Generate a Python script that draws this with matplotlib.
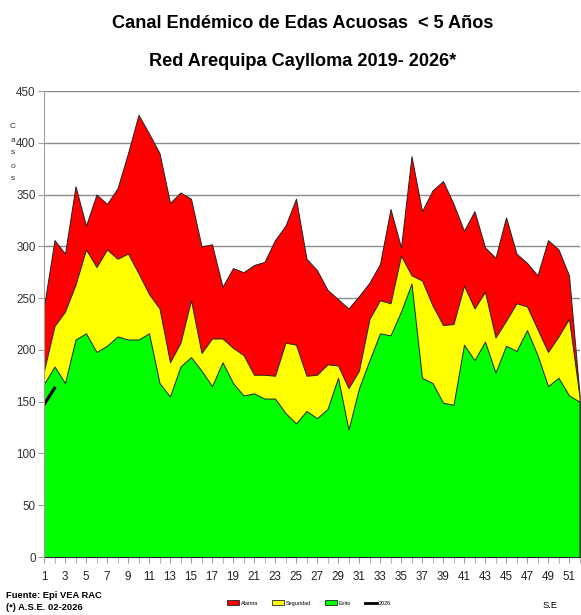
import matplotlib
matplotlib.use("Agg")
import matplotlib.pyplot as plt
from matplotlib import font_manager
from matplotlib.patches import Patch
from matplotlib.lines import Line2D

# === DATA ===
weeks = list(range(1, 53))

alarma = [242, 306, 293, 358, 320, 350, 341, 356, 390, 427,
          409, 390, 342, 352, 346, 300, 302, 261, 279, 275,
          282, 285, 306, 320, 346, 288, 277, 258, 249, 240,
          252, 265, 283, 336, 299, 387, 334, 354, 363, 341,
          315, 334, 299, 289, 328, 293, 284, 272, 306, 297,
          272, 157]

seguridad = [180, 223, 237, 263, 297, 280, 297, 288, 293, 274,
             254, 240, 188, 207, 248, 197, 211, 211, 202, 195,
             176, 176, 175, 207, 205, 175, 176, 186, 185, 163,
             180, 230, 248, 245, 291, 272, 267, 243, 224, 225,
             262, 240, 256, 212, 228, 245, 242, 220, 198, 213,
             230, 155]

exito = [167, 184, 168, 210, 216, 198, 204, 213, 210, 210,
         216, 168, 155, 184, 193, 180, 165, 188, 168, 156,
         158, 153, 153, 139, 129, 141, 134, 143, 173, 123,
         163, 190, 216, 214, 237, 264, 173, 168, 149, 147,
         205, 190, 208, 178, 204, 199, 219, 195, 165, 173,
         156, 150]

weeks_2026 = [1, 2]
casos_2026 = [147, 163]

xticks = list(range(1, 53, 2))
yticks = list(range(0, 451, 50))

# pick a narrow face if one is installed, else Liberation Sans (Arial metrics)
installed = {f.name for f in font_manager.fontManager.ttflist}
narrow_ok = any(n in installed for n in ["Liberation Sans Narrow", "DejaVu Sans Condensed"])
for name in ["Liberation Sans Narrow", "DejaVu Sans Condensed", "Liberation Sans", "DejaVu Sans"]:
    if name in installed:
        main_font = name
        break
plt.rcParams["font.family"] = [main_font, "DejaVu Sans"]
k = 1.0 if narrow_ok else 0.84   # shrink sizes when only a regular-width face exists

fig = plt.figure(figsize=(5.81, 6.15), dpi=100)
ax = fig.add_axes([44 / 581, 58 / 615, 535.5 / 581, 466 / 615])

# overlapping areas, Excel style
ax.fill_between(weeks, 0, alarma, color="#FF0000", edgecolor="#222222", lw=0.7, zorder=2)
ax.fill_between(weeks, 0, seguridad, color="#FFFF00", edgecolor="#222222", lw=0.7, zorder=3)
ax.fill_between(weeks, 0, exito, color="#00FF00", edgecolor="#222222", lw=0.7, zorder=4)
ax.plot(weeks_2026, casos_2026, color="black", lw=2.2, zorder=5)

ax.set_xlim(1, 52)
ax.set_ylim(0, 450)
ax.set_yticks(yticks)
ax.set_xticks(xticks)
ax.set_xticks(weeks, minor=True)
ax.grid(axis="y", color="#8c8c8c", lw=1.0, zorder=1)
ax.set_axisbelow(True)

for s in ["top", "right"]:
    ax.spines[s].set_visible(False)
ax.spines["left"].set_color("#a0a0a0")
ax.spines["bottom"].set_color("#a0a0a0")
ax.spines["left"].set_zorder(6)

ax.tick_params(axis="y", labelsize=10 * k, colors="#a0a0a0", labelcolor="#333333", length=4, pad=2)
ax.tick_params(axis="x", which="both", labelsize=10 * k, colors="#a0a0a0", labelcolor="#222222",
               length=4, pad=6)

# stacked y label
fig.text(13 / 581, 1 - 153 / 615, "C\na\ns\no\ns", fontsize=6, ha="center", va="center",
         linespacing=2.2, color="#333333")

# titles
fig.text(303 / 581, 1 - 23 / 615, "Canal Endémico de Edas Acuosas  < 5 Años",
         fontsize=15.5 * k, fontweight="bold", ha="center", va="center")
fig.text(303 / 581, 1 - 61 / 615, "Red Arequipa Caylloma 2019- 2026*",
         fontsize=15.5 * k, fontweight="bold", ha="center", va="center")

# footer
fig.text(6 / 581, 1 - 596 / 615, "Fuente: Epi VEA RAC", fontsize=8 * k, fontweight="bold",
         ha="left", va="center")
fig.text(6 / 581, 1 - 608 / 615, "(*) A.S.E. 02-2026", fontsize=8 * k, fontweight="bold",
         ha="left", va="center")
fig.text(550 / 581, 1 - 605 / 615, "S.E", fontsize=8 * k, ha="center", va="center")

handles = [Patch(facecolor="#FF0000", edgecolor="#222222", lw=0.6),
           Patch(facecolor="#FFFF00", edgecolor="#222222", lw=0.6),
           Patch(facecolor="#00FF00", edgecolor="#222222", lw=0.6),
           Line2D([0], [0], color="black", lw=2)]
fig.legend(handles, ["Alarma", "Seguridad", "Exito", "2026"], loc="center",
           bbox_to_anchor=(309 / 581, 1 - 603 / 615), ncol=4, frameon=False,
           fontsize=4, handlelength=2.2, handleheight=0.9, columnspacing=2.5,
           handletextpad=0.3)

fig.savefig("out.png", dpi=100)
